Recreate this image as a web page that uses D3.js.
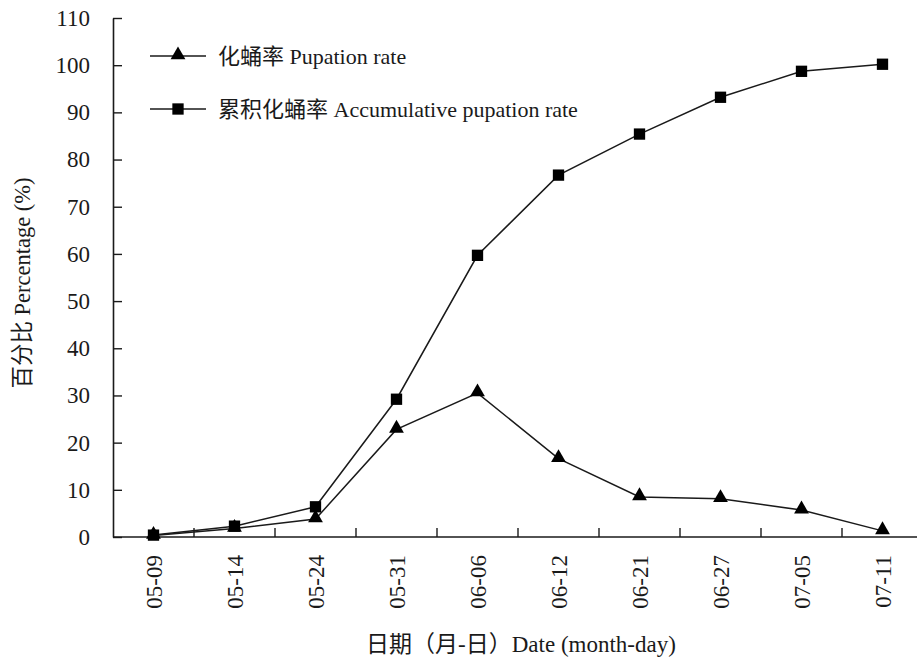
<!DOCTYPE html>
<html>
<head>
<meta charset="utf-8">
<script src="https://cdn.jsdelivr.net/npm/d3@7"></script>
<style>
  body { margin: 0; background: #fff; }
  svg text { font-family: "Liberation Serif", "Noto Sans CJK SC", serif; fill: #1a1a1a; }
</style>
</head>
<body>
<div id="chart"></div>
<script>
// data
const dates = ["05-09", "05-14", "05-24", "05-31", "06-06", "06-12", "06-21", "06-27", "07-05", "07-11"];
const pupationRate = [0.3, 1.8, 3.8, 22.8, 30.5, 16.6, 8.5, 8.1, 5.7, 1.3];
const accumRate = [0.4, 2.3, 6.4, 29.2, 59.7, 76.7, 85.4, 93.2, 98.7, 100.2];
const yTicks = [0, 10, 20, 30, 40, 50, 60, 70, 80, 90, 100, 110];
const legendLabels = ["化蛹率 Pupation rate", "累积化蛹率 Accumulative pupation rate"];

const width = 917, height = 666;
const ink = "#1a1a1a";

const svg = d3.select("#chart").append("svg")
  .attr("width", width)
  .attr("height", height);

const x = d3.scaleBand().domain(dates).range([113, 923]).padding(0);
const y = d3.scaleLinear().domain([0, 110]).range([537, 18]);
const cx = d => x(d) + x.bandwidth() / 2;

// ---- axes ----
const yAxisG = svg.append("g")
  .attr("transform", "translate(113,0)")
  .call(d3.axisLeft(y).tickValues(yTicks).tickSize(-9).tickPadding(23).tickSizeOuter(0));

const xAxisG = svg.append("g")
  .attr("transform", "translate(0,537)");

// baseline + boundary ticks (ticks sit between categories, pointing up)
xAxisG.append("line")
  .attr("x1", 113).attr("x2", 923)
  .attr("stroke", ink).attr("stroke-width", 1.6);

xAxisG.selectAll(".bt")
  .data(dates.slice(1))
  .join("line")
  .attr("class", "bt")
  .attr("x1", d => x(d)).attr("x2", d => x(d))
  .attr("y1", 0).attr("y2", -9)
  .attr("stroke", ink).attr("stroke-width", 1.4);

xAxisG.selectAll(".xl")
  .data(dates)
  .join("text")
  .attr("class", "xl")
  .attr("transform", d => `translate(${cx(d)},18) rotate(-90)`)
  .attr("text-anchor", "end")
  .attr("dy", "0.35em")
  .style("font-size", "23px")
  .text(d => d);

yAxisG.select(".domain").attr("stroke", ink).attr("stroke-width", 1.6);
yAxisG.selectAll(".tick line").attr("stroke", ink).attr("stroke-width", 1.4);
yAxisG.selectAll(".tick text")
  .style("font-size", "23px")
  .style("font-family", "'Liberation Serif', serif")
  .attr("fill", ink);

// ---- axis titles ----
svg.append("text")
  .attr("transform", "translate(30,283) rotate(-90)")
  .attr("text-anchor", "middle")
  .style("font-size", "22.5px")
  .text("百分比 Percentage (%)");

svg.append("text")
  .attr("x", 521)
  .attr("y", 652)
  .attr("text-anchor", "middle")
  .style("font-size", "23px")
  .text("日期（月-日）Date (month-day)");

// ---- lines ----
const line = d3.line()
  .x((v, i) => cx(dates[i]))
  .y(v => y(v));

svg.append("path")
  .datum(accumRate)
  .attr("fill", "none")
  .attr("stroke", ink)
  .attr("stroke-width", 1.5)
  .attr("d", line);

svg.append("path")
  .datum(pupationRate)
  .attr("fill", "none")
  .attr("stroke", ink)
  .attr("stroke-width", 1.5)
  .attr("d", line);

const tri = d3.symbol().type(d3.symbolTriangle).size(95);
const sq = d3.symbol().type(d3.symbolSquare).size(128);

svg.append("g").selectAll("path")
  .data(accumRate)
  .join("path")
  .attr("transform", (v, i) => `translate(${cx(dates[i])},${y(v)})`)
  .attr("d", sq)
  .attr("fill", "#000");

svg.append("g").selectAll("path")
  .data(pupationRate)
  .join("path")
  .attr("transform", (v, i) => `translate(${cx(dates[i])},${y(v) - 1})`)
  .attr("d", tri)
  .attr("fill", "#000");

// ---- legend ----
const legend = svg.append("g");
const legendY = [56, 109];
const legendSym = [tri, sq];

legendLabels.forEach((lab, i) => {
  const row = legend.append("g").attr("transform", `translate(0,${legendY[i]})`);
  row.append("line")
    .attr("x1", 150).attr("x2", 206)
    .attr("stroke", ink).attr("stroke-width", 1.5);
  row.append("path")
    .attr("transform", `translate(178,${i === 0 ? -1 : 0})`)
    .attr("d", legendSym[i])
    .attr("fill", "#000");
  row.append("text")
    .attr("x", 218)
    .attr("dy", "0.35em")
    .style("font-size", "22px")
    .text(lab);
});
</script>
</body>
</html>
